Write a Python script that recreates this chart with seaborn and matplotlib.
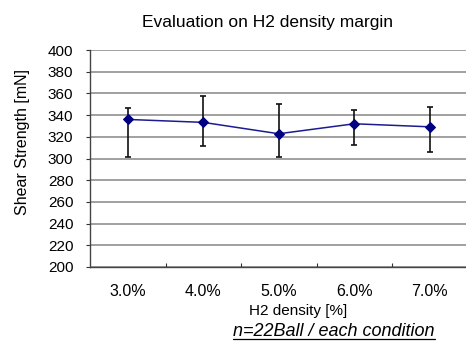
import matplotlib
matplotlib.use("Agg")
import matplotlib.pyplot as plt
from matplotlib.lines import Line2D
from matplotlib.transforms import ScaledTranslation
import numpy as np
import pandas as pd
import seaborn as sns

# H2 density conditions and measured shear strength (mN)
densities = ["3.0%", "4.0%", "5.0%", "6.0%", "7.0%"]
mean_strength = [336.0, 333.3, 322.8, 332.0, 329.2]
max_strength = [346.2, 357.5, 349.8, 344.9, 347.1]
min_strength = [301.0, 311.1, 301.6, 312.0, 305.9]
y_ticks = [200, 220, 240, 260, 280, 300, 320, 340, 360, 380, 400]

sns.set_theme(style="white")
plt.rcParams["font.family"] = ["Liberation Sans", "DejaVu Sans"]

df = pd.DataFrame({"pos": np.arange(len(densities)), "strength": mean_strength})

fig = plt.figure(figsize=(4.66, 3.48), dpi=100)
W, H = 466, 348
left, right, top, bottom = 90, 466, 50, 267
ax = fig.add_axes([left / W, 1 - bottom / H, (right - left) / W, (bottom - top) / H])

# horizontal grid
for v in y_ticks:
    ax.axhline(v, color="#999999", lw=1.3, zorder=0)

yerr = [np.array(mean_strength) - np.array(min_strength),
        np.array(max_strength) - np.array(mean_strength)]
ax.errorbar(df["pos"], df["strength"], yerr=yerr, fmt="none", ecolor="#111111",
            elinewidth=1.2, capsize=2.3, capthick=1.2, zorder=2)
sns.lineplot(data=df, x="pos", y="strength", ax=ax, color="#1c1c90", lw=1.1,
             marker="D", markersize=5, markerfacecolor="#000080",
             markeredgecolor="#000080", zorder=3)

ax.set_ylim(200, 400)
ax.set_yticks(y_ticks)
ax.set_xlim(-0.5, -0.5 + (right - left) / 75.5)
ax.set_xticks([0.5, 1.5, 2.5, 3.5])
ax.set_xticklabels([])
ax.tick_params(axis="x", direction="in", length=3, width=0.8, color="#333333", bottom=True)
ax.tick_params(axis="y", direction="out", length=3, width=0.8, color="#333333", left=True,
               labelsize=11, pad=9, labelcolor="black")
for s in ["top", "right"]:
    ax.spines[s].set_visible(False)
for s in ["left", "bottom"]:
    ax.spines[s].set_color("#444444")
    ax.spines[s].set_linewidth(1.0)
ax.set_xlabel("")
ax.set_ylabel("")

# category labels under the axis
offset = ScaledTranslation(0, -24 / 100, fig.dpi_scale_trans)
for i, lab in enumerate(densities):
    ax.text(i, 200, lab, transform=ax.transData + offset, ha="center", va="center",
            fontsize=11.5, color="black")

fig.text(267 / W, 1 - 27 / H, "Evaluation on H2 density margin", ha="center", va="baseline",
         fontsize=12.5, color="black")
fig.text(23 / W, 1 - 142 / H, "Shear Strength [mN]", rotation=90, ha="center", va="center",
         fontsize=11.5, color="black")
fig.text(298 / W, 1 - 311 / H, "H2 density [%]", ha="center", va="center",
         fontsize=11, color="black")
note = fig.text(334 / W, 1 - 331 / H, "n=22Ball / each condition", ha="center", va="center",
                fontsize=13, style="italic", color="black")

fig.canvas.draw()
bb = note.get_window_extent()
uy = (bb.y0 + 1) / fig.bbox.height
fig.add_artist(Line2D([bb.x0 / fig.bbox.width, bb.x1 / fig.bbox.width], [uy, uy],
                      color="black", lw=0.9, transform=fig.transFigure))

fig.savefig("out.png", dpi=100)
